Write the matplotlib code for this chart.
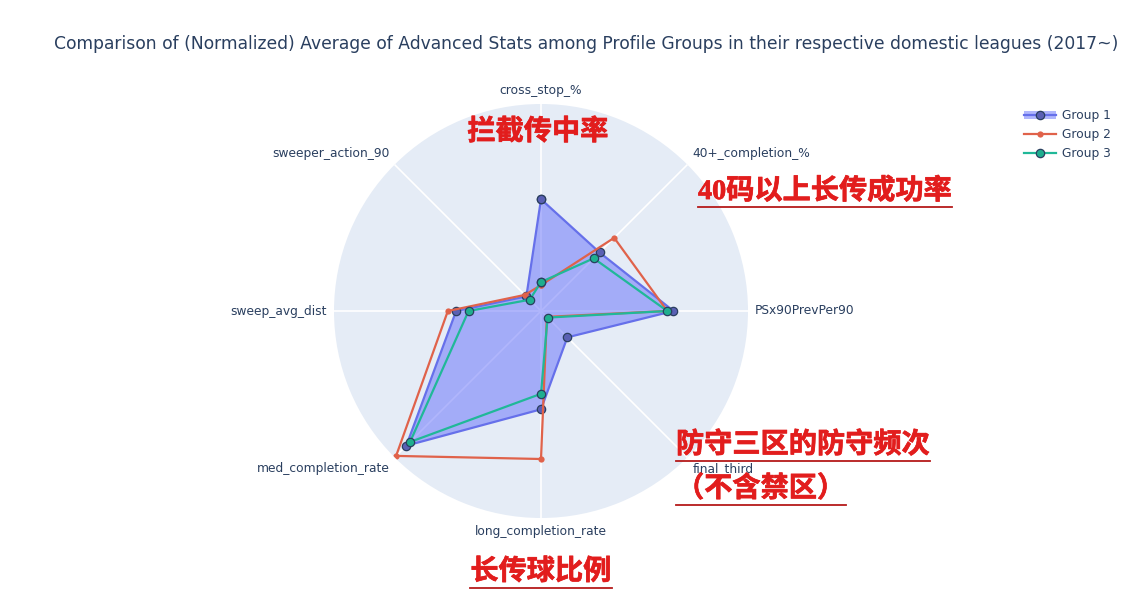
import numpy as np
import matplotlib
matplotlib.use("Agg")
import matplotlib.pyplot as plt
from matplotlib.lines import Line2D
from matplotlib.patches import Patch
import matplotlib.patheffects as pe

# axis order as drawn, clockwise from the top
categories = [
    "cross_stop_%",
    "40+_completion_%",
    "PSx90PrevPer90",
    "final_third",
    "long_completion_rate",
    "med_completion_rate",
    "sweep_avg_dist",
    "sweeper_action_90",
]
group_names = ["Group 1", "Group 2", "Group 3"]
group_1 = [0.54, 0.40, 0.64, 0.18, 0.475, 0.92, 0.41, 0.10]
group_2 = [0.125, 0.50, 0.61, 0.04, 0.715, 0.99, 0.45, 0.11]
group_3 = [0.14, 0.36, 0.61, 0.045, 0.40, 0.895, 0.35, 0.077]

title = ("Comparison of (Normalized) Average of Advanced Stats among Profile "
         "Groups in their respective domestic leagues (2017~)")
notes = ["拦截传中率", "40码以上长传成功率", "防守三区的防守频次", "（不含禁区）", "长传球比例"]

BG = "#E5ECF6"
TXT = "#2a3f5f"
BLUE, RED, GREEN = "#6670ea", "#e0624a", "#20b898"
W, H = 1127, 600

fig = plt.figure(figsize=(W / 100, H / 100), dpi=100)
cx, cy, R = 541, 311, 207
ax = fig.add_axes([(cx - R) / W, (H - cy - R) / H, 2 * R / W, 2 * R / H],
                  projection="polar")
ax.set_theta_offset(np.pi / 2)
ax.set_theta_direction(-1)
ax.set_facecolor(BG)
ax.spines["polar"].set_visible(False)

theta = np.linspace(0, 2 * np.pi, len(categories), endpoint=False)
ax.set_xticks(theta)
ax.set_xticklabels([])
ax.set_yticks([])
ax.set_ylim(0, 1)
ax.xaxis.grid(True, color="white", linewidth=1.2)
ax.yaxis.grid(False)


def closed(vals):
    return np.append(theta, theta[0]), np.append(vals, vals[0])


g1_style = dict(color=BLUE, linewidth=1.6, marker="o", markersize=6,
                markerfacecolor="#5a60b4", markeredgecolor="#2a3f5f",
                markeredgewidth=0.9)
g2_style = dict(color=RED, linewidth=1.6, marker="o", markersize=4.5,
                markerfacecolor=RED, markeredgewidth=0)
g3_style = dict(color=GREEN, linewidth=1.6, marker="o", markersize=6,
                markerfacecolor="#1fae8e", markeredgecolor="#2a3f5f",
                markeredgewidth=0.9)

t1, r1 = closed(group_1)
ax.fill(t1, r1, color="#636efa", alpha=0.5, linewidth=0, zorder=2)
ax.plot(t1, r1, zorder=3, **g1_style)
t2, r2 = closed(group_2)
ax.plot(t2, r2, zorder=4, **g2_style)
t3, r3 = closed(group_3)
ax.plot(t3, r3, zorder=5, **g3_style)

# category labels anchored like plotly's angular tick labels
for ang, lab in zip(theta, categories):
    s, c = np.sin(ang), np.cos(ang)
    ha = "center" if abs(s) < 0.1 else ("left" if s > 0 else "right")
    va = "center" if abs(c) < 0.1 else ("bottom" if c > 0 else "top")
    ax.text(ang, 1.035, lab, ha=ha, va=va, fontsize=8.8, color=TXT,
            clip_on=False)

fig.text(586 / W, 1 - 44 / H, title, ha="center", va="center",
         fontsize=12.3, color=TXT)

handles = [
    (Patch(facecolor="#636efa", alpha=0.5, edgecolor="none"),
     Line2D([0], [0], **g1_style)),
    Line2D([0], [0], **g2_style),
    Line2D([0], [0], **g3_style),
]
fig.legend(handles, group_names, loc="upper left",
           bbox_to_anchor=(1013 / W, 1 - 98 / H), frameon=False,
           fontsize=8.8, labelcolor=TXT, handlelength=2.6,
           handleheight=0.6, labelspacing=0.5, handletextpad=0.5)

# red Chinese annotations
cjk = ["Liberation Serif", "Noto Sans CJK SC", "DejaVu Sans"]
red = "#e21d1d"
note_pos = [
    (538, 132, "center", False),
    (698, 191, "left", True),
    (676, 445, "left", True),
    (676, 489, "left", True),
    (541, 572, "center", True),
]
texts = []
for s, (x, y, ha, ul) in zip(notes, note_pos):
    t = fig.text(x / W, 1 - y / H, s, ha=ha, va="center", fontsize=20.3,
                 fontweight="bold", color=red, family=cjk,
                 path_effects=[pe.withStroke(linewidth=0.5, foreground=red)])
    texts.append((t, ul))

fig.canvas.draw()
renderer = fig.canvas.get_renderer()
for t, ul in texts:
    if not ul:
        continue
    bb = t.get_window_extent(renderer).transformed(fig.transFigure.inverted())
    yline = bb.y0 - 2 / H
    fig.add_artist(Line2D([bb.x0, bb.x1], [yline, yline],
                          transform=fig.transFigure, color="#b51a1a",
                          linewidth=1.3))

fig.savefig("out.png", dpi=100, facecolor="white")
